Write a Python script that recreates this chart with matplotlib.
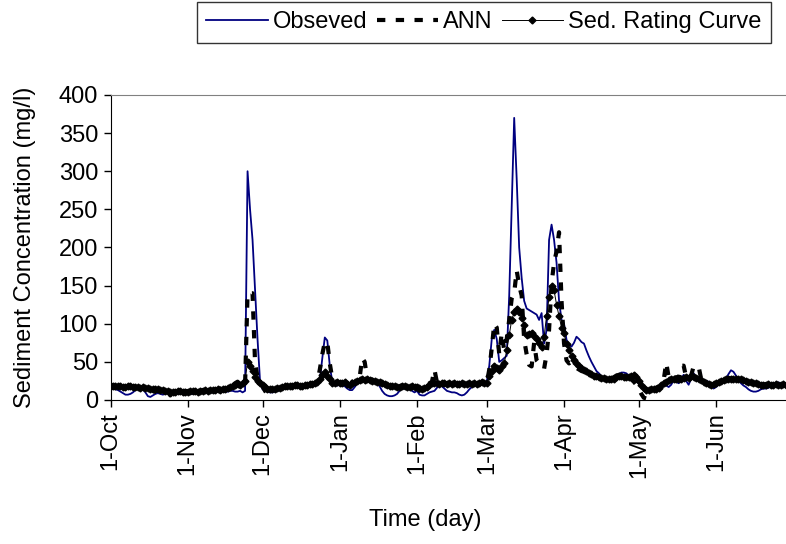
import numpy as np
import matplotlib
matplotlib.use("Agg")
import matplotlib.pyplot as plt

plt.rcParams['font.family'] = ['Liberation Sans', 'DejaVu Sans']

# daily values, 1-Oct .. 30-Jun (mg/l), one list per month
obs_oct = [16, 15, 14, 13, 11, 9, 7, 7, 8, 10, 13, 15, 15, 14, 10, 5, 4, 6, 8, 9, 8, 7, 8, 9, 8, 8, 9, 8, 9, 8, 9]
obs_nov = [9, 8, 8, 9, 9, 10, 10, 9, 9, 10, 10, 11, 11, 10, 11, 11, 11, 12, 12, 11, 11, 12, 10, 12, 300, 250, 210, 145, 80, 25]
obs_dec = [14, 12, 11, 10, 10, 11, 12, 13, 14, 15, 15, 16, 17, 17, 18, 17, 16, 16, 17, 18, 19, 20, 22, 26, 55, 82, 78, 45, 24, 20, 19]
obs_jan = [20, 20, 18, 15, 13, 13, 17, 22, 26, 28, 28, 27, 26, 25, 24, 22, 18, 12, 8, 6, 5, 5, 6, 8, 12, 15, 15, 14, 14, 12, 10]
obs_feb = [12, 7, 6, 6, 8, 10, 11, 12, 16, 20, 18, 15, 12, 11, 10, 10, 9, 7, 6, 7, 10, 14, 17, 19, 20, 21, 22, 22]
obs_mar = [24, 45, 80, 92, 80, 50, 52, 55, 58, 137, 253, 370, 290, 200, 160, 130, 120, 118, 116, 114, 112, 105, 114, 74, 92, 210, 230, 210, 180, 130, 105]
obs_apr = [100, 79, 72, 70, 75, 83, 80, 76, 74, 65, 57, 50, 44, 38, 35, 31, 28, 27, 27, 27, 27, 28, 34, 36, 36, 35, 32, 29, 26, 24]
obs_may = [22, 20, 17, 14, 13, 13, 14, 15, 16, 18, 20, 19, 17, 20, 26, 24, 22, 28, 33, 25, 20, 28, 35, 30, 28, 27, 26, 25, 24, 20, 15]
obs_jun = [17, 20, 22, 24, 28, 34, 39, 37, 32, 26, 22, 19, 17, 14, 12, 11, 11, 12, 14, 15, 15, 16, 18, 20, 22, 23, 22, 21, 20, 20]

ann_oct = [17, 19, 18, 17, 19, 18, 16, 18, 17, 18, 16, 17, 15, 18, 14, 16, 13, 5, 14, 12, 13, 10, 12, 11, 6, 12, 11, 12, 10, 11, 12]
ann_nov = [11, 13, 12, 13, 11, 12, 13, 12, 14, 12, 13, 14, 13, 15, 14, 15, 16, 17, 19, 22, 24, 20, 23, 20, 140, 140, 140, 50, 30, 25]
ann_dec = [18, 12, 7, 9, 12, 14, 15, 16, 16, 17, 18, 18, 19, 20, 19, 20, 19, 21, 20, 21, 22, 21, 23, 40, 60, 76, 76, 48, 28, 22, 24]
ann_jan = [22, 24, 20, 22, 18, 24, 26, 28, 30, 55, 50, 28, 25, 27, 24, 26, 22, 20, 21, 18, 19, 17, 18, 16, 18, 19, 17, 18, 16, 17, 18]
ann_feb = [16, 12, 14, 15, 18, 22, 24, 40, 23, 21, 22, 20, 22, 21, 23, 20, 22, 21, 22, 20, 21, 22, 20, 21, 22, 20, 24, 21]
ann_mar = [22, 40, 68, 100, 95, 60, 88, 65, 80, 105, 133, 140, 170, 150, 137, 79, 60, 46, 44, 75, 52, 48, 44, 41, 60, 92, 153, 180, 195, 220, 130]
ann_apr = [74, 52, 48, 50, 46, 42, 40, 38, 37, 35, 34, 32, 31, 30, 29, 28, 28, 27, 27, 28, 30, 32, 33, 31, 30, 29, 28, 27, 24, 20]
ann_may = [15, 8, 3, 2, 8, 12, 14, 16, 18, 22, 26, 49, 30, 26, 28, 30, 28, 45, 45, 30, 28, 32, 44, 44, 44, 28, 26, 24, 22, 20, 21]
ann_jun = [22, 24, 26, 27, 28, 29, 28, 27, 28, 27, 26, 25, 24, 23, 22, 22, 21, 20, 21, 20, 21, 20, 21, 20, 20, 21, 20, 21, 20, 20]

src_oct = [18, 18, 19, 18, 18, 17, 17, 18, 18, 17, 17, 17, 16, 17, 16, 16, 15, 15, 14, 14, 13, 13, 12, 12, 11, 11, 11, 12, 12, 11, 11]
src_nov = [11, 12, 12, 12, 11, 12, 12, 13, 12, 13, 13, 13, 14, 13, 14, 15, 16, 17, 18, 20, 21, 20, 22, 25, 50, 45, 38, 30, 25, 22]
src_dec = [20, 17, 15, 14, 14, 15, 16, 16, 17, 18, 18, 19, 19, 20, 20, 19, 19, 20, 20, 21, 21, 22, 23, 27, 33, 37, 32, 27, 22, 22, 23]
src_jan = [22, 22, 23, 21, 20, 22, 24, 25, 26, 27, 26, 27, 26, 25, 25, 24, 23, 22, 21, 20, 19, 18, 18, 17, 17, 18, 18, 17, 17, 18, 17]
src_feb = [17, 16, 15, 16, 17, 20, 22, 22, 22, 21, 22, 22, 21, 22, 21, 22, 21, 21, 22, 21, 21, 22, 21, 22, 21, 22, 23, 22]
src_mar = [22, 31, 38, 44, 42, 40, 44, 48, 65, 85, 105, 115, 120, 116, 108, 98, 85, 87, 88, 84, 80, 75, 70, 83, 110, 135, 149, 144, 125, 110, 95]
src_apr = [88, 74, 66, 58, 53, 48, 45, 42, 40, 38, 36, 34, 32, 31, 30, 29, 29, 28, 27, 27, 28, 30, 31, 31, 30, 30, 30, 31, 33, 30]
src_may = [25, 20, 16, 13, 13, 14, 15, 15, 16, 20, 22, 24, 26, 28, 27, 28, 27, 28, 29, 30, 29, 31, 30, 29, 28, 26, 24, 22, 21, 20, 21]
src_jun = [22, 24, 25, 26, 28, 28, 27, 28, 27, 28, 27, 26, 25, 24, 23, 22, 22, 21, 20, 20, 20, 21, 20, 20, 21, 20, 20, 21, 20, 20]

month_labels = ['1-Oct', '1-Nov', '1-Dec', '1-Jan', '1-Feb', '1-Mar', '1-Apr', '1-May', '1-Jun']
month_days = [31, 30, 31, 31, 28, 31, 30, 31, 30]

observed = obs_oct + obs_nov + obs_dec + obs_jan + obs_feb + obs_mar + obs_apr + obs_may + obs_jun
ann = ann_oct + ann_nov + ann_dec + ann_jan + ann_feb + ann_mar + ann_apr + ann_may + ann_jun
rating = src_oct + src_nov + src_dec + src_jan + src_feb + src_mar + src_apr + src_may + src_jun
days = np.arange(len(observed))
month_starts = np.concatenate([[0], np.cumsum(month_days)[:-1]])

fs = 17
fig = plt.figure(figsize=(7.86, 5.44), dpi=100)
ax = fig.add_axes([110.5 / 786, 144 / 544, 677.8 / 786, 305 / 544])

ax.plot(days, observed, color='#000080', lw=1.3, label='Obseved', zorder=2)
ax.plot(days, ann, color='black', lw=3, linestyle=(0, (2, 2.5)), label='ANN', zorder=3)
ax.plot(days, rating, color='black', lw=0.7, marker='D', ms=3.5, label='Sed. Rating Curve', zorder=4)

ax.set_xlim(0, 272)
ax.set_ylim(0, 400)
ax.set_yticks(range(0, 401, 50))
ax.set_xticks(month_starts)
ax.set_xticklabels(month_labels, rotation=90)
ax.tick_params(axis='both', direction='out', length=5, width=1, labelsize=fs, color='black', pad=4)

ax.spines['right'].set_visible(False)
ax.spines['top'].set_color('#808080')
ax.spines['left'].set_color('black')
ax.spines['bottom'].set_color('black')

ax.set_ylabel('Sediment Concentration (mg/l)', fontsize=fs, labelpad=16)
fig.text(425 / 786, 1 - 520 / 544, 'Time (day)', fontsize=fs, ha='center', va='center')

leg = fig.legend(loc='upper left', bbox_to_anchor=(197 / 786, 1 - 2 / 544), ncol=3, fontsize=fs,
                 frameon=True, fancybox=False, edgecolor='black', handlelength=2.6,
                 handletextpad=0.2, columnspacing=0.4, borderpad=0.4, borderaxespad=0)
leg.get_frame().set_linewidth(1)

fig.savefig('out.png', dpi=100)
